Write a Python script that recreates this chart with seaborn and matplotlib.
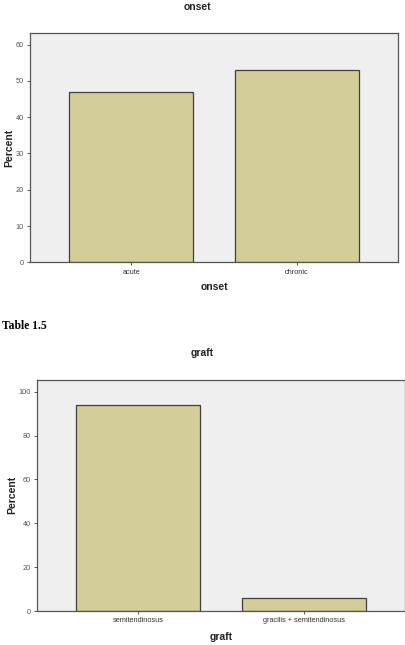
import matplotlib
matplotlib.use("Agg")
import matplotlib.pyplot as plt
import seaborn as sns
import pandas as pd

onset_categories = ["acute", "chronic"]
onset_percent = [47.06, 52.94]
onset_yticks = [0, 10, 20, 30, 40, 50, 60]

graft_categories = ["semitendinosus", "gracilis + semitendinosus"]
graft_percent = [94.12, 5.88]
graft_yticks = [0, 20, 40, 60, 80, 100]

BAR = "#d3ce97"
EDGE = "#3f3f3f"
FACE = "#efefef"
SPINE = "#555555"

plt.rcParams["font.family"] = ["Liberation Sans", "DejaVu Sans"]

W, H = 406, 645
fig = plt.figure(figsize=(W / 100, H / 100), dpi=100)


def panel(rect, cats, vals, yticks, ylim, name, title_xy, xlab_y, ylab_x):
    ax = fig.add_axes(rect)
    df = pd.DataFrame({name: cats, "Percent": vals})
    sns.barplot(data=df, x=name, y="Percent", ax=ax, color=BAR, width=0.75,
                edgecolor=EDGE, linewidth=0.9, saturation=1)
    ax.set_facecolor(FACE)
    ax.set_xlim(-0.613, 1.613)
    ax.set_ylim(*ylim)
    ax.set_yticks(yticks)
    ax.set_yticklabels([str(t) for t in yticks], fontsize=5.3, color="#555555")
    ax.set_xticks(range(len(cats)))
    ax.set_xticklabels(cats, fontsize=5.3, color="#333333")
    ax.tick_params(axis="both", length=2.5, width=0.7, color=SPINE, pad=2)
    for s in ax.spines.values():
        s.set_color(SPINE)
        s.set_linewidth(0.9)
    ax.set_xlabel(name, fontsize=7.5, fontweight="bold", color="#222222")
    ax.xaxis.label.set_va("center")
    ax.xaxis.set_label_coords(0.5, xlab_y)
    ax.set_ylabel("Percent", fontsize=7.5, fontweight="bold", color="#222222")
    ax.yaxis.label.set_va("center")
    ax.yaxis.set_label_coords(ylab_x, 0.5)
    fig.text(title_xy[0] / W, 1 - title_xy[1] / H, name, fontsize=7.5,
             fontweight="bold", ha="center", va="center", color="#222222")
    return ax


# top panel: axes box x 30..398, y 33.3..262.3 (pixels)
panel([30 / W, 1 - 262.3 / H, 368 / W, 229 / H], onset_categories, onset_percent,
      onset_yticks, (0, 63.1), "onset", (197, 7), -0.108, -0.057)

# bottom panel: axes box x 37..405, y 379.7..611
panel([37 / W, 1 - 611 / H, 368 / W, 231.3 / H], graft_categories, graft_percent,
      graft_yticks, (0, 105.5), "graft", (201.7, 353.3), -0.111, -0.068)

fig.text(2 / W, 1 - 326 / H, "Table 1.5", fontsize=8.4, fontweight="bold",
         family=["Liberation Serif", "DejaVu Serif"], ha="left", va="center")

fig.savefig("out.png", dpi=100)
